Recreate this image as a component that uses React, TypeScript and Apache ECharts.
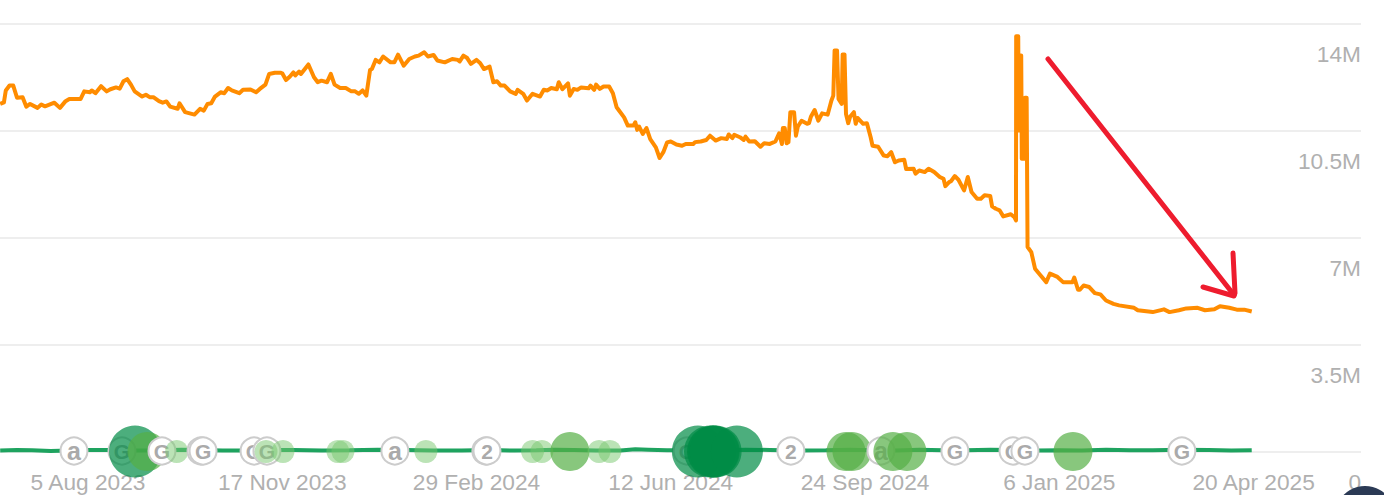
import React, { useEffect, useRef } from "react";
import * as echarts from "echarts";

// Days are counted from 5 Aug 2023; values are in millions.
const tickDays = [0, 104, 208, 312, 416, 520, 624];
const tickLabels = ["5 Aug 2023", "17 Nov 2023", "29 Feb 2024", "12 Jun 2024", "24 Sep 2024", "6 Jan 2025", "20 Apr 2025"];

const orangeDays = [
  -47,-45,-44,-42,-40,-38,-35,-33,-31,-27,-25,-23,-18,-15,-12,-10,-4,-2,1,2,4,7,10,12,15,17,19,21,23,25,29,31,33,35,38,40,42,44,48,49,52,57,60,62,64,66,68,71,73,75,77,81,83,87,90,92,95,97,100,103,104,106,108,110,111,113,114,118,121,123,125,128,130,132,135,138,141,143,145,147,149,151,152,154,156,158,162,164,166,169,172,175,177,180,182,185,187,191,195,198,
  199,201,203,205,208,210,212,215,217,219,221,223,226,229,230,233,235,238,242,244,246,248,251,252,254,257,258,260,262,264,268,269,271,272,274,276,279,281,283,287,289,292,293,294,295,297,299,301,304,306,308,310,312,315,318,320,324,325,328,331,333,336,339,342,343,345,346,349,351,352,354,357,360,362,365,368,370,371.5,372,373,374,375,376,378,379,380,382,385,386,387,389,391,393,396,398,399,
  399.7,401,401.8,403.5,404,405,405.8,407,408,410,411,412,415,417,419,420,423,426,428,430,432,434,437,438,442,
  443,445,448,450,453,456,458,459,461,462,464,466,469,471,473,476,478,480,483,484,486,488,490,494,496,496.8,496.9,498,498.3,498.6,499.6,499.9,501,501.6,502.5,503,505,507,510,513,515,519,522,527,528,530,531,533,536,539,542,545,549,552,560,562,570,576,579,584,588,594,598,603,606,611,615,619,623,
];
const orangeValues = [
  11.37,11.42,11.81,11.97,11.97,11.57,11.59,11.28,11.37,11.24,11.35,11.29,11.41,11.24,11.46,11.53,11.53,11.78,11.75,11.81,11.72,11.95,11.78,11.85,11.91,11.87,12.11,12.18,12.0,11.78,11.61,11.67,11.59,11.59,11.46,11.41,11.45,11.28,11.21,11.39,11.1,11.02,11.21,11.15,11.37,11.39,11.61,11.75,11.72,11.89,11.81,11.72,11.83,11.84,11.75,11.86,12.0,12.35,12.39,12.39,12.37,12.15,12.26,12.4,12.3,12.43,12.35,12.66,12.24,12.08,12.13,12.08,12.35,12.0,11.89,11.89,11.78,11.78,11.7,11.81,11.64,12.48,12.51,12.81,12.73,12.92,12.73,12.73,12.98,12.62,12.84,12.92,12.95,13.06,12.92,12.97,12.79,12.73,12.84,12.81,
  12.76,12.95,12.87,12.68,12.81,12.7,12.51,12.59,12.08,12.11,11.97,11.97,11.78,11.7,11.83,11.7,11.48,11.7,11.61,11.83,11.81,11.89,11.85,12.08,11.85,12.04,11.64,11.86,11.83,11.91,11.88,11.97,11.83,12.0,11.86,11.94,11.94,11.72,11.26,10.93,10.66,10.66,10.77,10.52,10.63,10.39,10.58,10.22,9.95,9.6,9.79,10.11,10.14,10.04,10.0,10.06,10.06,10.12,10.14,10.19,10.33,10.17,10.25,10.22,10.37,10.25,10.36,10.28,10.19,10.3,10.14,10.15,9.97,10.08,10.06,10.14,10.41,10.06,10.58,10.58,10.08,10.12,11.1,11.1,10.33,10.63,10.82,10.72,10.74,10.95,11.17,10.82,11.06,11.02,11.48,11.64,
  13.12,13.12,11.53,11.37,12.99,12.99,11.04,10.74,10.95,11.1,10.72,10.91,10.72,10.74,10.28,10.0,9.97,9.68,9.66,9.79,9.46,9.52,9.54,9.24,9.25,
  9.09,9.19,9.14,9.25,9.14,8.98,8.92,8.68,8.81,8.84,9.01,8.89,8.54,8.98,8.49,8.27,8.27,8.38,8.36,8.02,7.94,7.89,7.69,7.76,7.66,7.56,13.58,13.58,10.5,12.95,12.95,9.58,9.58,11.57,11.57,6.69,6.52,5.98,5.76,5.54,5.82,5.71,5.54,5.54,5.69,5.29,5.29,5.43,5.38,5.18,5.14,4.94,4.83,4.78,4.7,4.62,4.56,4.65,4.56,4.62,4.68,4.7,4.62,4.65,4.75,4.7,4.64,4.64,4.58,
];

const greenDays = [-47,-38,-30,-20,-10,0,10,25,40,50,60,72,85,97,110,125,140,155,170,185,200,215,228,240,250,260,272,285,293,300,310,320,340,352,365,380,395,408,420,432,445,458,470,483,495,508,520,532,545,558,570,585,600,612,623];
const greenValues = [0.03,0.05,0.04,0.02,0.03,0.05,0.05,0.03,0.04,0.06,0.05,0.03,0.03,0.05,0.05,0.03,0.04,0.06,0.05,0.03,0.03,0.05,0.03,0.04,0.06,0.05,0.03,0.03,0.07,0.06,0.04,0.04,0.04,0.06,0.05,0.03,0.04,0.06,0.04,0.03,0.06,0.04,0.04,0.06,0.05,0.03,0.04,0.03,0.06,0.04,0.04,0.06,0.05,0.03,0.04];

const markerDays = [-7.5,18.2,25.2,31.6,39.6,47.5,60.5,61.6,88.9,95.8,95.3,104.4,133.8,136.5,164.3,180.9,213,213.6,238,243,258,273.6,279.4,320.7,326.5,333,334.6,335,336,347.4,376.3,405.8,409,424.5,430.9,438.4,464.1,495.2,501.6,527.3,585.6];
const markerKinds = ["a","G","dark","mid","G","light","G","G","G","G","light","light","light","light","a","light","2","2","light","light","mid","light","light","G","dark","dark","dark","dark","dark","dark","2","mid","mid","a","mid","mid","G","G","G","mid","G"];

const bubbleStyle: Record<string, { fill: string; d: number }> = {
  dark: { fill: "rgba(0,140,70,0.7)", d: 52 },
  mid: { fill: "rgba(85,175,70,0.7)", d: 39 },
  light: { fill: "rgba(120,200,110,0.5)", d: 23 },
};

export default function App() {
  const ref = useRef<HTMLDivElement>(null);
  useEffect(() => {
    document.body.style.margin = "0";
    const chart = echarts.init(ref.current!, undefined, { renderer: "svg" });
    const font = "Liberation Sans, Arial, sans-serif";
    chart.setOption({
      animation: false,
      backgroundColor: "#fff",
      grid: { left: 0, right: 23, top: 23.5, bottom: 43.5 },
      xAxis: {
        type: "value",
        min: -47.1,
        max: 681.5,
        splitLine: { show: false },
        axisLine: { show: false },
        axisTick: { show: false },
        axisLabel: {
          customValues: tickDays,
          formatter: (v: number) => tickLabels[tickDays.indexOf(v)] ?? "",
          color: "#b0b0b0",
          fontFamily: font,
          fontSize: 22.7,
          margin: 19,
          verticalAlign: "top",
          hideOverlap: false,
        },
      },
      yAxis: {
        type: "value",
        position: "right",
        min: 0,
        max: 14,
        interval: 3.5,
        axisLine: { show: false },
        axisTick: { show: false },
        splitLine: { lineStyle: { color: "#eeeeee", width: 2 } },
        axisLabel: {
          inside: true,
          margin: 0,
          align: "right",
          verticalAlign: "top",
          padding: [19, 0, 0, 0],
          color: "#b0b0b0",
          fontFamily: font,
          fontSize: 22.7,
          formatter: (v: number) => (v === 0 ? "0" : `${v}M`),
        },
      },
      series: [
        {
          type: "line",
          data: orangeDays.map((d, i) => [d, orangeValues[i]]),
          showSymbol: false,
          lineStyle: { color: "#ff8c00", width: 4, join: "round" },
          z: 2,
        },
        {
          type: "line",
          data: greenDays.map((d, i) => [d, greenValues[i]]),
          showSymbol: false,
          lineStyle: { color: "#1ea35f", width: 4 },
          z: 3,
        },
        {
          type: "custom",
          z: 4,
          clip: false,
          encode: { x: 0, y: 1 },
          data: markerDays.map((d) => [d, 0]),
          renderItem: (params: any, api: any) => {
            const [x, y] = api.coord([api.value(0), api.value(1)]);
            const kind = markerKinds[params.dataIndex];
            const b = bubbleStyle[kind];
            if (b) {
              return { type: "circle", shape: { cx: x, cy: y, r: b.d / 2 }, style: { fill: b.fill } };
            }
            return {
              type: "group",
              children: [
                {
                  type: "circle",
                  shape: { cx: x, cy: y - 0.5, r: 13.5 },
                  style: { fill: "#fff", stroke: "#cccccc", lineWidth: 2 },
                },
                {
                  type: "text",
                  style: {
                    text: kind,
                    x,
                    y: y - 0.5,
                    align: "center",
                    verticalAlign: "middle",
                    fill: "#aaaaaa",
                    font: `bold ${kind === "a" ? 25 : 21}px ${font}`,
                  },
                },
              ],
            };
          },
        },
      ],
      graphic: [
        {
          type: "polyline",
          z: 10,
          shape: { points: [[1048, 59], [1234, 295]] },
          style: { stroke: "#ee1c2e", lineWidth: 5, lineCap: "round", fill: "none" },
        },
        {
          type: "polyline",
          z: 10,
          shape: { points: [[1233, 253], [1235, 293], [1234, 296], [1203, 287]] },
          style: { stroke: "#ee1c2e", lineWidth: 5, lineCap: "round", lineJoin: "round", fill: "none" },
        },
        {
          type: "circle",
          z: 10,
          shape: { cx: 1365, cy: 516, r: 30 },
          style: { fill: "#2b3a55" },
        },
      ],
    });
    return () => chart.dispose();
  }, []);
  return <div ref={ref} style={{ width: 1384, height: 495 }} />;
}
